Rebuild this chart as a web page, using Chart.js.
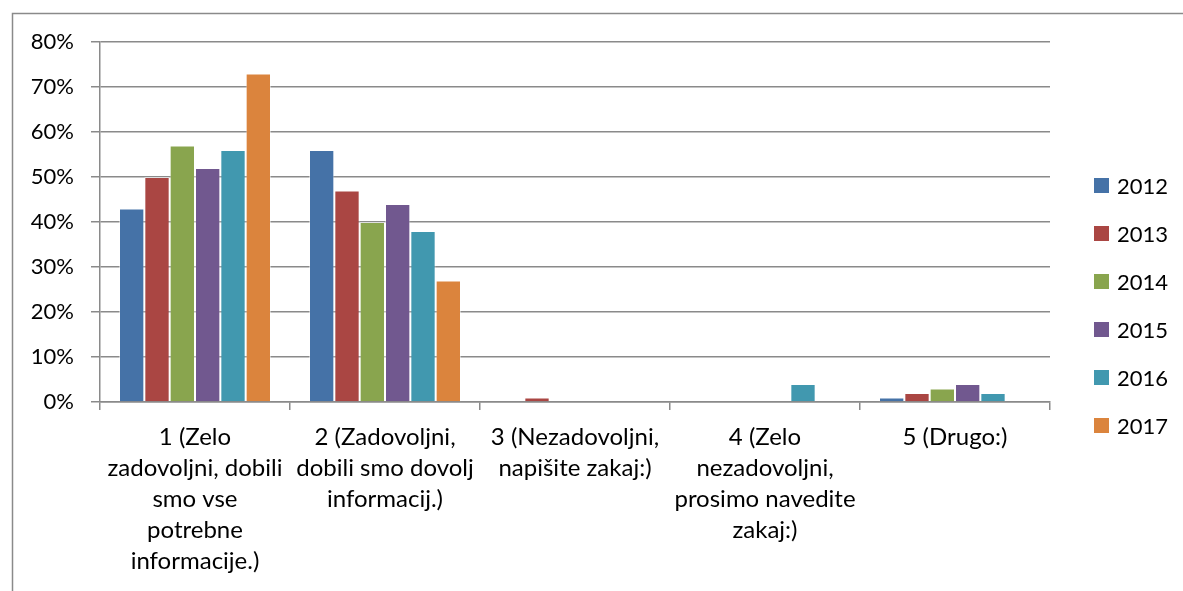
<!DOCTYPE html>
<html>
<head>
<meta charset="utf-8">
<script src="https://cdn.jsdelivr.net/npm/chart.js@4.4.1/dist/chart.umd.min.js"></script>
<style>
  body { margin: 0; background: #fff; }
  #wrap { width: 1183px; height: 591px; }
</style>
</head>
<body>
<div id="wrap"><canvas id="chart" width="1183" height="591"></canvas></div>
<script>
let categories = [
  ["1 (Zelo", "zadovoljni, dobili", "smo vse", "potrebne", "informacije.)"],
  ["2 (Zadovoljni,", "dobili smo dovolj", "informacij.)"],
  ["3 (Nezadovoljni,", "napišite zakaj:)"],
  ["4 (Zelo", "nezadovoljni,", "prosimo navedite", "zakaj:)"],
  ["5 (Drugo:)"]
];
let years = ["2012", "2013", "2014", "2015", "2016", "2017"];
let v2012 = [43, 56, 0, 0, 1];
let v2013 = [50, 47, 1, 0, 2];
let v2014 = [57, 40, 0, 0, 3];
let v2015 = [52, 44, 0, 0, 4];
let v2016 = [56, 38, 0, 4, 2];
let v2017 = [73, 27, 0, 0, 0];
let colors = ["#4572A7", "#AA4643", "#89A54E", "#71588F", "#4198AF", "#DB843D"];

let values = [v2012, v2013, v2014, v2015, v2016, v2017];
let FONT = "Lato";

// frame + legend drawn by hand so the legend sits where excel put it
let extras = {
  id: "extras",
  afterDraw(chart){
    let ctx = chart.ctx;
    ctx.save();
    ctx.strokeStyle = "#8a8a8a";
    ctx.lineWidth = 1.5;
    ctx.strokeRect(12.5, 13.5, 1300, 700);

    ctx.font = "22px " + FONT;
    ctx.textBaseline = "middle";
    chart.data.datasets.forEach((ds, i) => {
      let y = 185.5 + i * 48;
      ctx.fillStyle = ds.backgroundColor;
      ctx.fillRect(1094, y - 7.5, 15, 15);
      ctx.fillStyle = "#000";
      ctx.fillText(ds.label, 1117, y + 1);
    });
    ctx.restore();
  }
};

new Chart(document.getElementById("chart"), {
  type: "bar",
  data: {
    labels: categories,
    datasets: years.map((y, i) => ({
      label: y,
      data: values[i],
      backgroundColor: colors[i],
      borderColor: "rgba(255,255,255,0.45)",
      borderWidth: 1,
      categoryPercentage: 0.8,
      barPercentage: 1
    }))
  },
  options: {
    responsive: false,
    animation: false,
    layout: { padding: { left: 0, top: 42, right: 133, bottom: 0 } },
    plugins: {
      legend: { display: false },
      tooltip: { enabled: false }
    },
    scales: {
      x: {
        afterFit(scale){ scale.height = 189; },
        border: { color: "#8a8a8a", width: 1.5 },
        grid: { offset: true, drawOnChartArea: false, drawTicks: true, tickLength: 8, color: "#8a8a8a", lineWidth: 1.5 },
        ticks: {
          color: "#000",
          font: { family: FONT, size: 24, lineHeight: 1.29 },
          padding: 12,
          maxRotation: 0,
          autoSkip: false
        }
      },
      y: {
        min: 0,
        max: 80,
        afterFit(scale){ scale.width = 100; },
        border: { color: "#8a8a8a", width: 1.5 },
        grid: { color: "#8a8a8a", lineWidth: 1.5, tickLength: 9 },
        ticks: {
          stepSize: 10,
          color: "#000",
          padding: 17,
          font: { family: FONT, size: 22 },
          callback: v => v + "%"
        }
      }
    }
  },
  plugins: [extras]
});
</script>
</body>
</html>
